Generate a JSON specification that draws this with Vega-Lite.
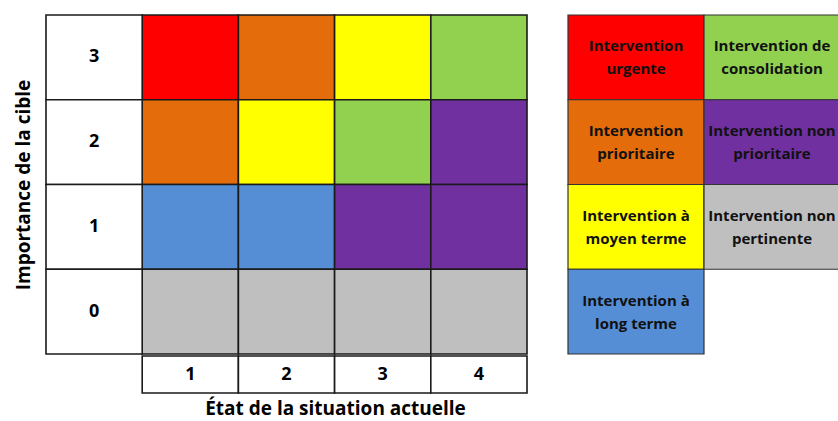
{
  "$schema": "https://vega.github.io/schema/vega-lite/v6.json",
  "padding": {"left": 14, "top": 14, "right": 0, "bottom": 0},
  "background": "white",
  "config": {"view": {"stroke": null}, "font": "Open Sans"},
  "datasets": {
    "cells": [
      {"etat": 1, "importance": 3, "categorie": "urgente"},
      {"etat": 2, "importance": 3, "categorie": "prioritaire"},
      {"etat": 3, "importance": 3, "categorie": "moyen terme"},
      {"etat": 4, "importance": 3, "categorie": "consolidation"},
      {"etat": 1, "importance": 2, "categorie": "prioritaire"},
      {"etat": 2, "importance": 2, "categorie": "moyen terme"},
      {"etat": 3, "importance": 2, "categorie": "consolidation"},
      {"etat": 4, "importance": 2, "categorie": "non prioritaire"},
      {"etat": 1, "importance": 1, "categorie": "long terme"},
      {"etat": 2, "importance": 1, "categorie": "long terme"},
      {"etat": 3, "importance": 1, "categorie": "non prioritaire"},
      {"etat": 4, "importance": 1, "categorie": "non prioritaire"},
      {"etat": 1, "importance": 0, "categorie": "non pertinente"},
      {"etat": 2, "importance": 0, "categorie": "non pertinente"},
      {"etat": 3, "importance": 0, "categorie": "non pertinente"},
      {"etat": 4, "importance": 0, "categorie": "non pertinente"}
    ],
    "rows": [{"importance": 3}, {"importance": 2}, {"importance": 1}, {"importance": 0}],
    "cols": [{"etat": 1}, {"etat": 2}, {"etat": 3}, {"etat": 4}],
    "legende": [
      {"col": 1, "ligne": 1, "categorie": "urgente", "texte": "Intervention\nurgente"},
      {"col": 1, "ligne": 2, "categorie": "prioritaire", "texte": "Intervention\nprioritaire"},
      {"col": 1, "ligne": 3, "categorie": "moyen terme", "texte": "Intervention à\nmoyen terme"},
      {"col": 1, "ligne": 4, "categorie": "long terme", "texte": "Intervention à\nlong terme"},
      {"col": 2, "ligne": 1, "categorie": "consolidation", "texte": "Intervention de\nconsolidation"},
      {"col": 2, "ligne": 2, "categorie": "non prioritaire", "texte": "Intervention non\nprioritaire"},
      {"col": 2, "ligne": 3, "categorie": "non pertinente", "texte": "Intervention non\npertinente"}
    ]
  },
  "spacing": 39,
  "hconcat": [
    {
      "spacing": 0,
      "vconcat": [
        {
          "width": 481,
          "height": 339,
          "layer": [
            {
              "data": {"name": "cells"},
              "mark": {"type": "rect", "stroke": "#1a1a1a", "strokeWidth": 1.6},
              "encoding": {
                "x": {"field": "etat", "type": "ordinal", "scale": {"domain": ["lab", 1, 2, 3, 4], "paddingInner": 0, "paddingOuter": 0}, "axis": null},
                "y": {"field": "importance", "type": "ordinal", "scale": {"domain": [3, 2, 1, 0], "paddingInner": 0, "paddingOuter": 0},
                  "axis": {"title": "Importance de la cible", "labels": false, "ticks": false, "domain": false, "titleFontSize": 19, "titleFontWeight": "bold", "titleColor": "black", "titlePadding": 13, "titleFont": "Open Sans"}},
                "fill": {"field": "categorie", "type": "nominal", "legend": null,
                  "scale": {"domain": ["urgente", "prioritaire", "moyen terme", "long terme", "consolidation", "non prioritaire", "non pertinente"],
                            "range": ["#FF0000", "#E46C0A", "#FFFF00", "#558ED5", "#92D050", "#7030A0", "#BFBFBF"]}}
              }
            },
            {
              "data": {"name": "rows"},
              "mark": {"type": "rect", "fill": "white", "stroke": "#1a1a1a", "strokeWidth": 1.6},
              "encoding": {
                "x": {"datum": "lab", "type": "ordinal", "axis": null},
                "y": {"field": "importance", "type": "ordinal",
                  "axis": {"title": "Importance de la cible", "labels": false, "ticks": false, "domain": false, "titleFontSize": 19, "titleFontWeight": "bold", "titleColor": "black", "titlePadding": 13, "titleFont": "Open Sans"}}
              }
            },
            {
              "data": {"name": "rows"},
              "mark": {"type": "text", "fontSize": 18, "fontWeight": "bold", "color": "black"},
              "encoding": {
                "x": {"datum": "lab", "type": "ordinal", "axis": null},
                "y": {"field": "importance", "type": "ordinal",
                  "axis": {"title": "Importance de la cible", "labels": false, "ticks": false, "domain": false, "titleFontSize": 19, "titleFontWeight": "bold", "titleColor": "black", "titlePadding": 13, "titleFont": "Open Sans"}},
                "text": {"field": "importance", "type": "nominal"}
              }
            }
          ]
        },
        {
          "width": 481,
          "height": 37,
          "data": {"name": "cols"},
          "encoding": {
            "x": {"field": "etat", "type": "ordinal", "scale": {"domain": ["lab", 1, 2, 3, 4], "paddingInner": 0, "paddingOuter": 0},
              "axis": {"title": "État de la situation actuelle", "labels": false, "ticks": false, "domain": false, "titleFontSize": 19, "titleFontWeight": "bold", "titleColor": "black", "titlePadding": 6, "titleX": 289, "titleFont": "Open Sans"}}
          },
          "layer": [
            {"mark": {"type": "rect", "fill": "white", "stroke": "#1a1a1a", "strokeWidth": 1.6}},
            {"mark": {"type": "text", "fontSize": 18, "fontWeight": "bold", "color": "black"},
             "encoding": {"text": {"field": "etat", "type": "nominal"}}}
          ]
        }
      ]
    },
    {
      "width": 272,
      "height": 339,
      "data": {"name": "legende"},
      "encoding": {
        "x": {"field": "col", "type": "ordinal", "scale": {"domain": [1, 2], "paddingInner": 0, "paddingOuter": 0}, "axis": null},
        "y": {"field": "ligne", "type": "ordinal", "scale": {"domain": [1, 2, 3, 4], "paddingInner": 0, "paddingOuter": 0}, "axis": null}
      },
      "layer": [
        {"mark": {"type": "rect", "stroke": "#333333", "strokeWidth": 1.2},
         "encoding": {"fill": {"field": "categorie", "type": "nominal", "legend": null}}},
        {"mark": {"type": "text", "fontSize": 15, "fontWeight": "bold", "color": "#111111", "lineBreak": "\n", "lineHeight": 23, "dy": -11},
         "encoding": {"text": {"field": "texte", "type": "nominal"}}}
      ]
    }
  ]
}
